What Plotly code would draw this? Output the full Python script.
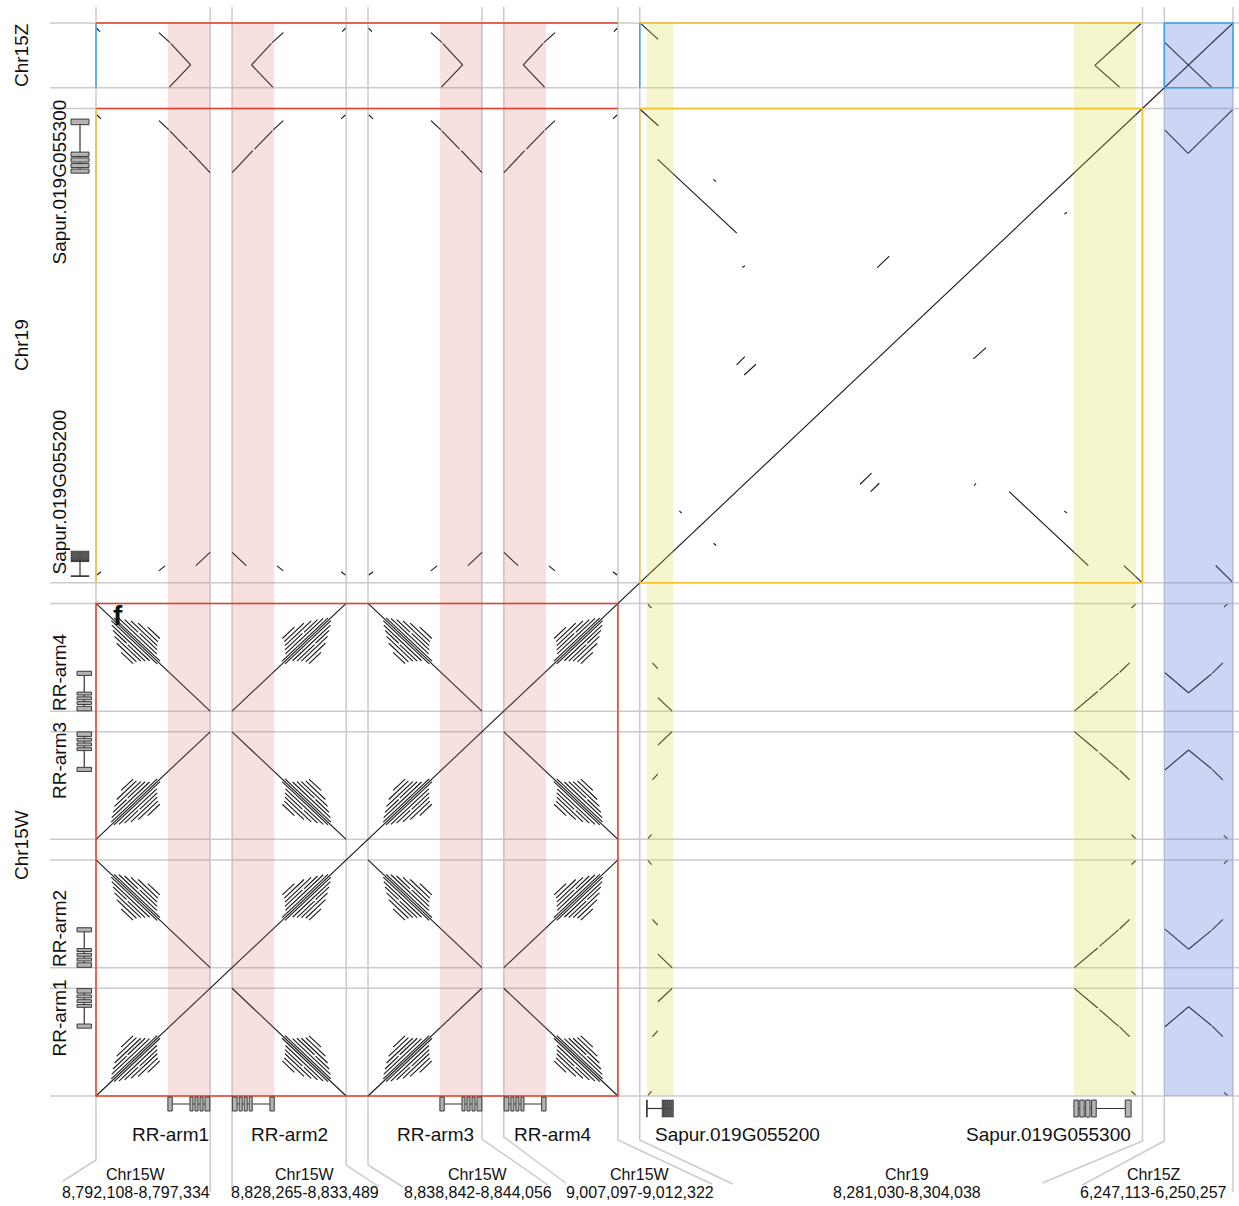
import plotly.graph_objects as go

# ---------------------------------------------------------------
# Sequence blocks placed along both axes of the self dot plot
# ---------------------------------------------------------------
BLOCK_CHROM = ["Chr15W", "Chr15W", "Chr15W", "Chr15W", "Chr19", "Chr15Z"]
BLOCK_START = [8792108, 8828265, 8838842, 9007097, 8281030, 6247113]
BLOCK_END = [8797334, 8833489, 8844056, 9012322, 8304038, 6250257]
GAP_KB = 1.0

# the four Chr15W blocks each hold one arm of the RR palindrome
ARM_NAMES = ["RR-arm1", "RR-arm2", "RR-arm3", "RR-arm4"]
ARM_STRAND = [1, -1, 1, -1]

# RR gene model, kb in arm coordinates (RR-arm1 orientation)
RR_SPAN = (3.29, 5.22)
RR_EXONS = [(3.29, 3.49), (4.30, 4.44), (4.53, 4.67), (4.76, 4.90), (4.99, 5.21)]

# Chr19 gene models, kb from the Chr19 block start
SAPUR_NAMES = ["Sapur.019G055200", "Sapur.019G055300"]
SAPUR_SPANS = [(0.32, 1.53), (19.87, 22.72)]
SAPUR_EXONS = [
    [(0.31, 0.34), (1.03, 1.08), (1.12, 1.17), (1.21, 1.26), (1.30, 1.35),
     (1.39, 1.44), (1.48, 1.53)],
    [(19.87, 20.07), (20.14, 20.34), (20.41, 20.61), (20.68, 20.89), (22.22, 22.49)],
]

# tandem-repeat off-diagonals of an arm against itself: (start kb, end kb, offset kb)
ARM_REPEATS = [
    (0.70, 2.80, 0.13),
    (0.72, 2.45, 0.33),
    (0.78, 1.40, 0.53),
    (1.45, 2.25, 0.55),
    (0.85, 2.05, 0.75),
    (0.95, 1.85, 0.98),
    (1.15, 1.70, 1.22),
]

# arm (kb) vs Chr19 (kb): (arm1, arm2, chr19_1, chr19_2)
ARM_VS_CHR19 = [
    (0.04, 0.23, 22.69, 22.50),
    (2.88, 3.35, 22.42, 21.96),
    (3.38, 4.19, 21.92, 21.04),
    (4.27, 5.22, 20.96, 19.89),
    (2.88, 3.16, 0.58, 0.82),
    (4.57, 5.22, 0.83, 1.48),
    (0.04, 0.23, 0.38, 0.54),
]

# arm (kb) vs Chr15Z (kb)
ARM_VS_CHR15Z = [
    (0.03, 0.18, 2.89, 2.73),
    (2.88, 3.39, 2.68, 2.19),
    (3.42, 4.33, 2.16, 1.11),
    (3.36, 4.33, 0.03, 1.11),
]

# Chr19 (kb) vs Chr15Z (kb)
CHR19_VS_CHR15Z = [
    (0.06, 0.84, 3.10, 2.35),
    (20.83, 21.96, 1.09, 0.03),
    (20.83, 22.94, 1.09, 3.12),
]

# Chr19 against itself, off the main diagonal: (x1, x2, y1, y2)
CHR19_SELF = [
    (0.01, 0.85, 22.97, 22.17),
    (0.82, 4.44, 20.54, 16.96),
    (3.36, 3.49, 19.57, 19.46),
    (4.69, 4.81, 15.29, 15.38),
    (10.87, 11.42, 15.29, 15.85),
    (19.43, 19.55, 17.88, 17.97),
    (4.43, 4.81, 10.57, 10.97),
    (4.78, 5.32, 10.08, 10.60),
    (15.27, 15.85, 10.86, 11.41),
    (10.08, 10.61, 4.78, 5.32),
    (10.57, 10.96, 4.42, 4.83),
    (15.30, 15.39, 4.71, 4.83),
    (16.91, 20.53, 4.42, 0.83),
    (22.16, 22.97, 0.83, 0.03),
    (19.43, 19.55, 3.49, 3.38),
    (1.81, 1.92, 3.49, 3.38),
    (3.38, 3.49, 1.92, 1.81),
]

# Chr15Z against itself, off the main diagonal
CHR15Z_SELF = [(0.03, 2.16, 2.19, 0.03)]

# ---------------------------------------------------------------
# layout of the concatenated coordinate system
# ---------------------------------------------------------------
LEN = [(e - s) / 1000.0 for s, e in zip(BLOCK_START, BLOCK_END)]
OFF = []
_acc = 0.0
for _L in LEN:
    OFF.append(_acc)
    _acc += _L + GAP_KB
TOT = _acc - GAP_KB
S, Z = 4, 5

FIG_W, FIG_H = 1239, 1206
PL, PR, PT, PB = 96, 1233, 23, 1096          # pixel frame of the dot plot
SX = (PR - PL) / TOT
SY = (PB - PT) / TOT


def fx(px):
    return (px - PL) / SX


def fy(py):
    return (PB - py) / SY


def apos(i, u):
    """position of arm coordinate u inside Chr15W block i"""
    return OFF[i] + (u if ARM_STRAND[i] > 0 else LEN[i] - u)


FONT = "Liberation Sans, Arial, sans-serif"
CHROM_COLOR = {"Chr15W": "#e2412f", "Chr19": "#f5c12c", "Chr15Z": "#3ba2ea"}
GRID = "#cbcbcb"

# ---------------------------------------------------------------
# alignment segments
# ---------------------------------------------------------------
segs = []


def add(x1, y1, x2, y2):
    segs.append((x1, y1, x2, y2))


def add_pair(x1, y1, x2, y2):
    add(x1, y1, x2, y2)
    add(y1, x1, y2, x2)


add(0.0, 0.0, TOT, TOT)   # main self diagonal

for i in range(4):
    for j in range(4):
        if i != j:
            add(apos(i, 0.0), apos(j, 0.0), apos(i, LEN[i]), apos(j, LEN[j]))
        for a, b, d in ARM_REPEATS:
            add(apos(i, a), apos(j, a + d), apos(i, b), apos(j, b + d))
            add(apos(i, a + d), apos(j, a), apos(i, b + d), apos(j, b))

for i in range(4):
    for u1, u2, s1, s2 in ARM_VS_CHR19:
        add_pair(apos(i, u1), OFF[S] + s1, apos(i, u2), OFF[S] + s2)
    for u1, u2, z1, z2 in ARM_VS_CHR15Z:
        add_pair(apos(i, u1), OFF[Z] + z1, apos(i, u2), OFF[Z] + z2)

for s1, s2, z1, z2 in CHR19_VS_CHR15Z:
    add_pair(OFF[S] + s1, OFF[Z] + z1, OFF[S] + s2, OFF[Z] + z2)

for x1, x2, y1, y2 in CHR19_SELF:
    add(OFF[S] + x1, OFF[S] + y1, OFF[S] + x2, OFF[S] + y2)
for x1, x2, y1, y2 in CHR15Z_SELF:
    add(OFF[Z] + x1, OFF[Z] + y1, OFF[Z] + x2, OFF[Z] + y2)

hx, hy = [], []
for x1, y1, x2, y2 in segs:
    hx += [x1, x2, None]
    hy += [y1, y2, None]

# ---------------------------------------------------------------
# block boundary guide lines and label connectors
# ---------------------------------------------------------------
edges = []
for b in range(6):
    edges += [OFF[b], OFF[b] + LEN[b]]

# connector shape at the foot of each vertical guide: (bend y px, x shift px, end y px)
CONNECT = [(1160, -33, 1181), (1192, 0, 1192), (1192, 0, 1192), (1165, 33, 1187),
           (1165, 35, 1187), (1139, 66, 1185), (1137, 62, 1183), (1140, 94, 1184),
           (1140, 93, 1184), (1141, -100, 1183), (1141, -82, 1185), (1192, 0, 1192)]

gx, gy = [], []
for e, (bend, dx, yend) in zip(edges, CONNECT):
    gx += [e, e, e + dx / SX, None]
    gy += [fy(7), fy(bend), fy(yend), None]
for e in edges:
    gx += [fx(50), fx(FIG_W), None]
    gy += [e, e, None]

fig = go.Figure()
fig.add_trace(go.Scatter(x=gx, y=gy, mode="lines", line=dict(color=GRID, width=1.5),
                         hoverinfo="skip"))
fig.add_trace(go.Scatter(x=hx, y=hy, mode="lines", line=dict(color="#161616", width=1.1),
                         hoverinfo="skip"))

shapes = []

# ---------------------------------------------------------------
# gene highlight columns
# ---------------------------------------------------------------
PINK = "rgba(226,100,100,0.2)"
YELLOW = "rgba(215,219,55,0.25)"
BLUE = "rgba(100,125,225,0.32)"

for i in range(4):
    xa, xb = sorted([apos(i, RR_SPAN[0]), apos(i, RR_SPAN[1])])
    shapes.append(dict(type="rect", xref="x", yref="y", x0=xa, x1=xb, y0=0, y1=TOT,
                       fillcolor=PINK, line=dict(width=0), layer="above"))
for s0, s1 in SAPUR_SPANS:
    shapes.append(dict(type="rect", xref="x", yref="y", x0=OFF[S] + s0, x1=OFF[S] + s1,
                       y0=0, y1=TOT, fillcolor=YELLOW, line=dict(width=0), layer="above"))
shapes.append(dict(type="rect", xref="x", yref="y", x0=OFF[Z], x1=OFF[Z] + LEN[Z],
                   y0=0, y1=TOT, fillcolor=BLUE, line=dict(width=0), layer="above"))

# ---------------------------------------------------------------
# chromosome frames
# ---------------------------------------------------------------
groups = [("Chr15W", OFF[0], OFF[3] + LEN[3]),
          ("Chr19", OFF[S], OFF[S] + LEN[S]),
          ("Chr15Z", OFF[Z], OFF[Z] + LEN[Z])]
for gi, (name, a0, a1) in enumerate(groups):
    shapes.append(dict(type="rect", xref="x", yref="y", x0=a0, x1=a1, y0=a0, y1=a1,
                       line=dict(color=CHROM_COLOR[name], width=1.5), layer="above"))
    for gj in range(gi + 1, len(groups)):
        nm2, b0, b1 = groups[gj]
        shapes.append(dict(type="line", xref="x", yref="y", x0=a0, x1=a1, y0=b1, y1=b1,
                           line=dict(color=CHROM_COLOR[name], width=1.5), layer="above"))
        shapes.append(dict(type="line", xref="x", yref="y", x0=a0, x1=a0, y0=b0, y1=b1,
                           line=dict(color=CHROM_COLOR[nm2], width=1.5), layer="above"))

# ---------------------------------------------------------------
# gene models along both axes
# ---------------------------------------------------------------
EXON_FILL = "#b3b3b3"
EXON_LINE = "#3a3a3a"


def gene_model(positions, band, on_x):
    """positions: list of (start, end) already in plot coords; band: (lo, hi) across"""
    lo, hi = band
    mid = (lo + hi) / 2
    starts = [min(p) for p in positions]
    ends = [max(p) for p in positions]
    g0, g1 = min(starts), max(ends)
    if on_x:
        shapes.append(dict(type="line", xref="x", yref="y", x0=g0, x1=g1, y0=mid, y1=mid,
                           line=dict(color="#333333", width=1.2), layer="above"))
    else:
        shapes.append(dict(type="line", xref="x", yref="y", x0=mid, x1=mid, y0=g0, y1=g1,
                           line=dict(color="#333333", width=1.2), layer="above"))
    for a, b in zip(starts, ends):
        if on_x:
            r = dict(x0=a, x1=b, y0=lo, y1=hi)
        else:
            r = dict(x0=lo, x1=hi, y0=a, y1=b)
        r.update(type="rect", xref="x", yref="y", fillcolor=EXON_FILL,
                 line=dict(color=EXON_LINE, width=1), layer="above")
        shapes.append(r)


RR_BAND_X = (fy(1111), fy(1097))
RR_BAND_Y = (fx(77), fx(91.5))
SP_BAND_X = (fy(1117), fy(1100))
SP_BAND_Y = (fx(71), fx(89))

for i in range(4):
    pos = [(apos(i, a), apos(i, b)) for a, b in RR_EXONS]
    gene_model(pos, RR_BAND_X, True)
    gene_model(pos, RR_BAND_Y, False)
for exons in SAPUR_EXONS:
    pos = [(OFF[S] + a, OFF[S] + b) for a, b in exons]
    gene_model(pos, SP_BAND_X, True)
    gene_model(pos, SP_BAND_Y, False)

# ---------------------------------------------------------------
# text
# ---------------------------------------------------------------
ann = []


def text(px, py, s, size, angle=0, bold=False):
    ann.append(dict(x=fx(px), y=fy(py), xref="x", yref="y", text=f"<b>{s}</b>" if bold else s,
                    showarrow=False, textangle=angle, xanchor="center", yanchor="middle",
                    font=dict(family=FONT, size=size, color="#111111")))


# chromosome titles on the left
for name, py in zip(["Chr15Z", "Chr19", "Chr15W"], [55, 345, 845]):
    text(21, py, name, 19, angle=-90)

# gene names: bottom axis (x px) and left axis (y px)
GENE_LABELS = ARM_NAMES + SAPUR_NAMES
GENE_LABEL_X = [170, 289, 435, 552, 737.5, 1048.5]
GENE_LABEL_Y = [1018.5, 929, 761, 673, 492.5, 182.5]
for name, px, py in zip(GENE_LABELS, GENE_LABEL_X, GENE_LABEL_Y):
    text(px, 1134, name, 19)
    text(59, py, name, 19, angle=-90)

# block coordinates under the connectors
BLOCK_LABEL_X = [135.5, 305, 478, 640, 907, 1153.5]
for b, px in enumerate(BLOCK_LABEL_X):
    text(px, 1174, BLOCK_CHROM[b], 16)
    text(px, 1192.5, f"{BLOCK_START[b]:,}-{BLOCK_END[b]:,}", 16)

text(118, 615, "f", 28, bold=True)

fig.update_layout(
    width=FIG_W, height=FIG_H,
    margin=dict(l=0, r=0, t=0, b=0),
    paper_bgcolor="white", plot_bgcolor="white",
    showlegend=False,
    xaxis=dict(range=[fx(0), fx(FIG_W)], visible=False, fixedrange=True),
    yaxis=dict(range=[fy(FIG_H), fy(0)], visible=False, fixedrange=True),
    shapes=shapes,
    annotations=ann,
)

fig.write_html("out.html", config={"displayModeBar": False})
